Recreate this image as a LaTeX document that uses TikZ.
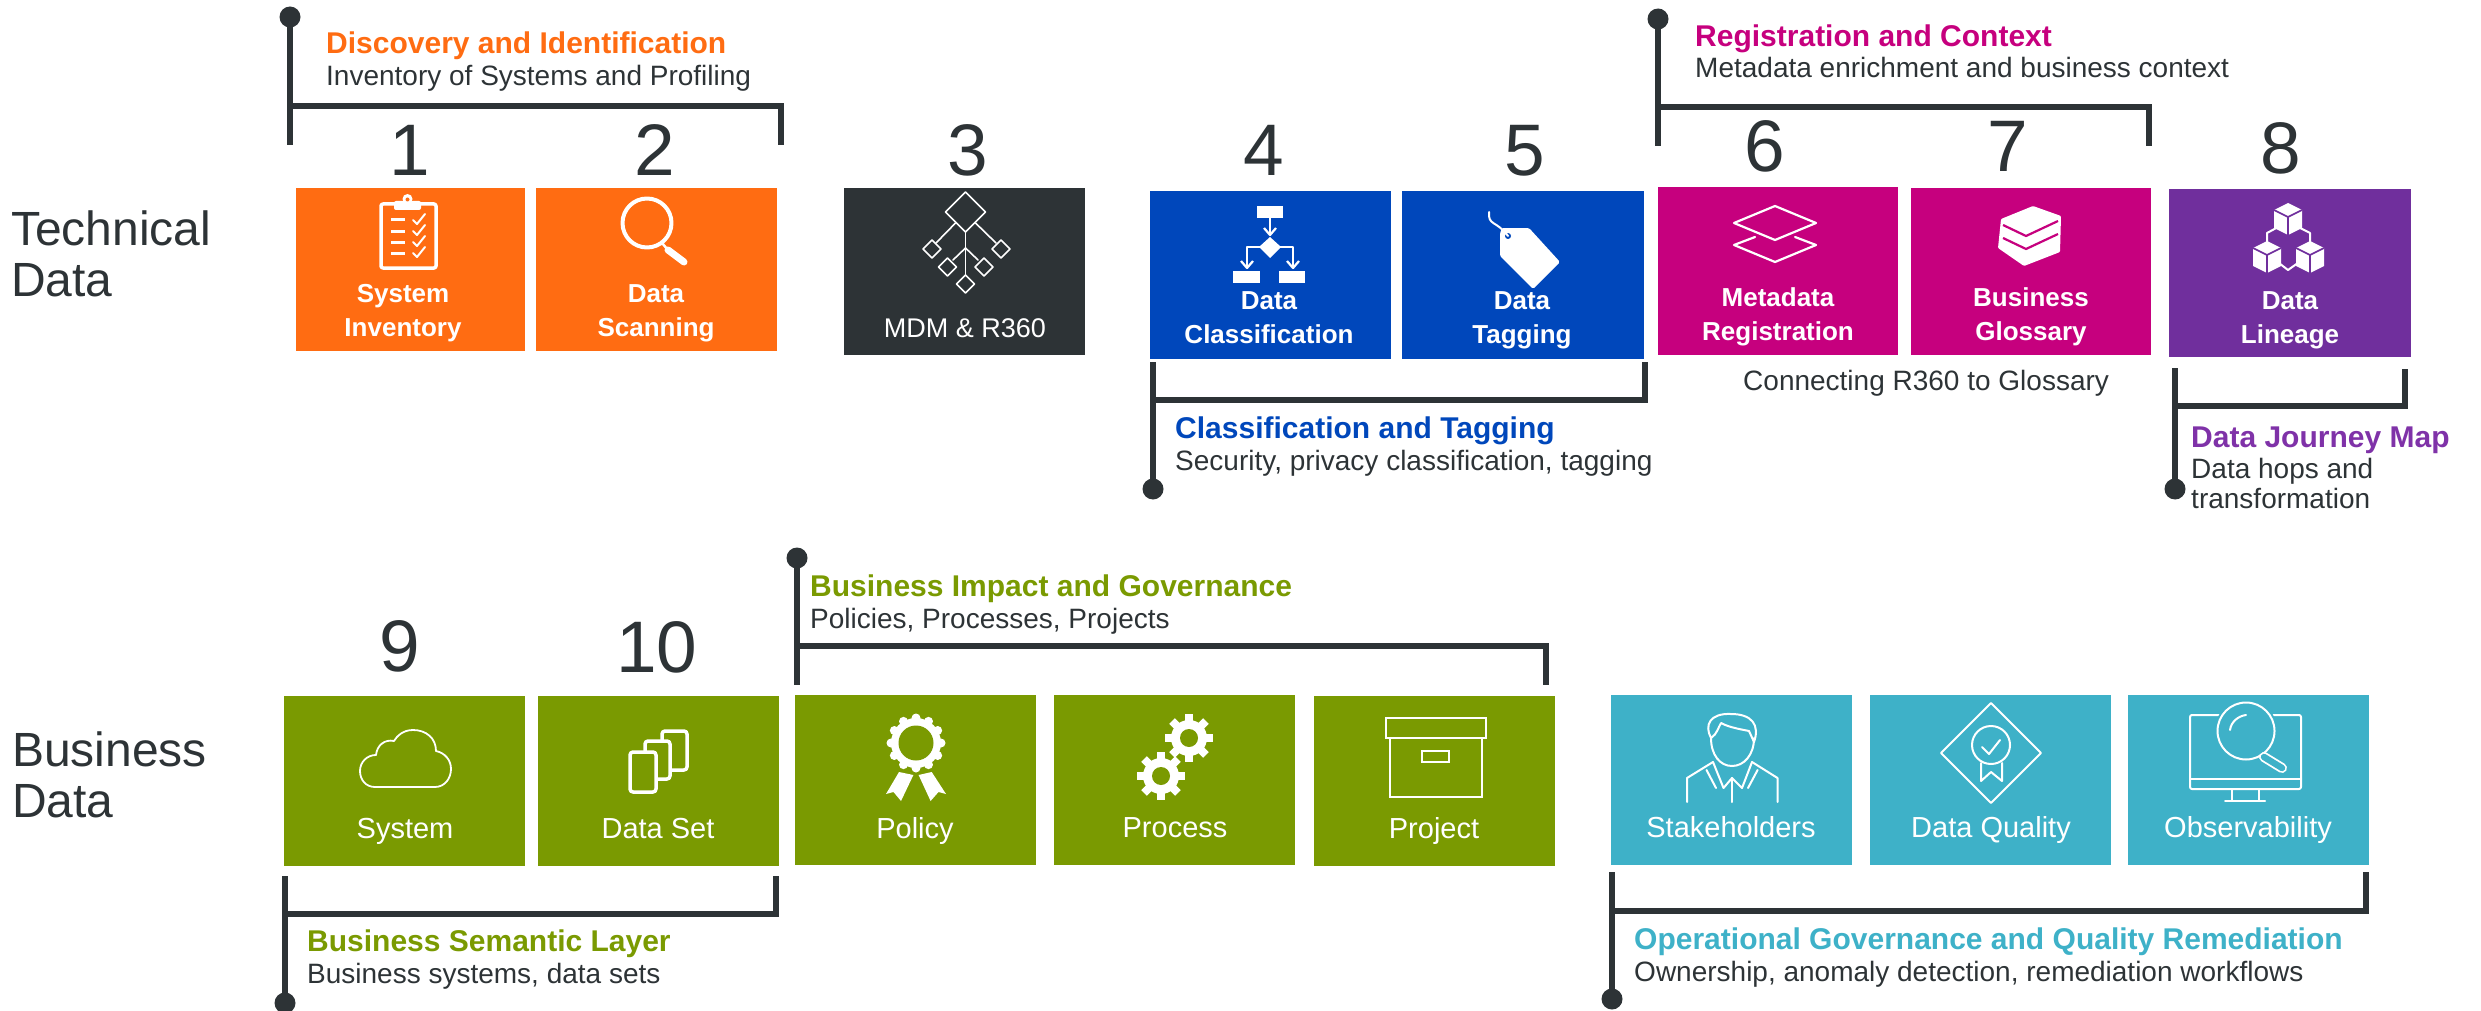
\documentclass[tikz,border=0pt]{standalone}
\usepackage{fontspec}
\setmainfont{Liberation Sans}
\definecolor{cOrange}{HTML}{FF6C12}
\definecolor{cDark}{HTML}{2D3336}
\definecolor{cBlue}{HTML}{0047BB}
\definecolor{cMag}{HTML}{C6007E}
\definecolor{cPurple}{HTML}{702F9D}
\definecolor{cPurpleText}{HTML}{7F32A8}
\definecolor{cGreen}{HTML}{7A9A01}
\definecolor{cTeal}{HTML}{3EB1C8}
\tikzset{
  tile/.style={rectangle,anchor=north west,inner sep=0pt,outer sep=0pt,draw=none},
  numlab/.style={anchor=base,inner sep=0pt,text=cDark,font=\fontsize{73}{80}\selectfont},
  rowlab/.style={anchor=base west,inner sep=0pt,text=cDark,align=left,font=\fontsize{48}{51}\selectfont},
  boldlab/.style={anchor=base,inner sep=0pt,text=white,align=center,font=\fontsize{26}{34}\selectfont\bfseries},
  mdmlab/.style={anchor=base,inner sep=0pt,text=white,font=\fontsize{27}{33}\selectfont},
  plainlab/.style={anchor=base,inner sep=0pt,text=white,font=\fontsize{29}{33}\selectfont},
  headlab/.style={anchor=base west,inner sep=0pt,font=\fontsize{30}{32}\selectfont\bfseries},
  sublab/.style={anchor=base west,inner sep=0pt,text=cDark,align=left,font=\fontsize{28}{30}\selectfont},
  brk/.style={draw=cDark,line width=6pt,line cap=butt,line join=miter},
  ico/.style={draw=white,line width=2.5pt,line join=round,line cap=round},
}
% bracket: name, xL, yDot, yEndL, yBar, xR, yEndR
\newcommand{\mybracket}[7]{%
  \coordinate (#1dot) at (#2,#3);
  \coordinate (#1end) at (#2,#4);
  \coordinate (#1bar) at (#2,#5);
  \coordinate (#1cor) at (#6,#5);
  \coordinate (#1rgt) at (#6,#7);
  \draw[brk] (#1dot) -- (#1end);
  \draw[brk] (#1bar) -- (#1cor) -- (#1rgt);
  \fill[cDark] (#1dot) circle (10.5pt);
}
\newcommand{\mycube}[2]{%
  \begin{scope}[shift={(#1,#2)}]
    \fill[white] (0,-16) -- (14,-9) -- (14,9) -- (0,16) -- (-14,9) -- (-14,-9) -- cycle;
    \draw[cPurple,line width=1.6pt] (-14,-9) -- (0,-2) -- (14,-9) (0,-2) -- (0,16);
  \end{scope}}
\newcommand{\mygear}[2]{%
  \begin{scope}[shift={(#1,#2)}]
    \fill[white] (0,0) circle (18pt);
    \foreach \a in {0,45,...,315}{\fill[white,rotate=\a] (-4,-24) rectangle (4,-14);}
    \fill[cGreen] (0,0) circle (9pt);
  \end{scope}}
\begin{document}
\begin{tikzpicture}[x=1pt,y=-1pt]
\useasboundingbox (0,0) rectangle (2481,1011);
% --- row labels
\node[rowlab] (rowT) at (11,296) {Technical\\Data};
\node[rowlab] (rowB) at (12,817) {Business\\Data};
% --- tiles
\node[tile,fill=cOrange,minimum width=229pt,minimum height=163pt] (t1) at (296,188) {};
\node[tile,fill=cOrange,minimum width=241pt,minimum height=163pt] (t2) at (536,188) {};
\node[tile,fill=cDark,minimum width=241pt,minimum height=167pt] (t3) at (844,188) {};
\node[tile,fill=cBlue,minimum width=241pt,minimum height=168pt] (t4) at (1150,191) {};
\node[tile,fill=cBlue,minimum width=242pt,minimum height=168pt] (t5) at (1402,191) {};
\node[tile,fill=cMag,minimum width=240pt,minimum height=168pt] (t6) at (1658,187) {};
\node[tile,fill=cMag,minimum width=240pt,minimum height=167pt] (t7) at (1911,188) {};
\node[tile,fill=cPurple,minimum width=242pt,minimum height=168pt] (t8) at (2169,189) {};
\node[tile,fill=cGreen,minimum width=241pt,minimum height=170pt] (t9) at (284,696) {};
\node[tile,fill=cGreen,minimum width=241pt,minimum height=170pt] (t10) at (538,696) {};
\node[tile,fill=cGreen,minimum width=241pt,minimum height=170pt] (t11) at (795,695) {};
\node[tile,fill=cGreen,minimum width=241pt,minimum height=170pt] (t12) at (1054,695) {};
\node[tile,fill=cGreen,minimum width=241pt,minimum height=170pt] (t13) at (1314,696) {};
\node[tile,fill=cTeal,minimum width=241pt,minimum height=170pt] (t14) at (1611,695) {};
\node[tile,fill=cTeal,minimum width=241pt,minimum height=170pt] (t15) at (1870,695) {};
\node[tile,fill=cTeal,minimum width=241pt,minimum height=170pt] (t16) at (2128,695) {};
% --- numbers
\node[numlab] (n1) at (410,176) {1};
\node[numlab] (n2) at (655,176) {2};
\node[numlab] (n3) at (968,176) {3};
\node[numlab] (n4) at (1264,176) {4};
\node[numlab] (n5) at (1525,176) {5};
\node[numlab] (n6) at (1765,172) {6};
\node[numlab] (n7) at (2008,172) {7};
\node[numlab] (n8) at (2281,174) {8};
\node[numlab] (n9) at (400,671) {9};
\node[numlab] (n10) at (657,672) {10};
% --- tile labels (anchored on the last line's baseline)
\node[boldlab] (l1) at (403,336) {System\\Inventory};
\node[boldlab] (l2) at (656,336) {Data\\Scanning};
\node[mdmlab] (l3) at (965,337) {MDM \& R360};
\node[boldlab] (l4) at (1269,343) {Data\\Classification};
\node[boldlab] (l5) at (1522,343) {Data\\Tagging};
\node[boldlab] (l6) at (1778,340) {Metadata\\Registration};
\node[boldlab] (l7) at (2031,340) {Business\\Glossary};
\node[boldlab] (l8) at (2290,343) {Data\\Lineage};
\node[plainlab] (l9) at (405,838) {System};
\node[plainlab] (l10) at (658,838) {Data Set};
\node[plainlab] (l11) at (915,838) {Policy};
\node[plainlab] (l12) at (1175,837) {Process};
\node[plainlab] (l13) at (1434,838) {Project};
\node[plainlab] (l14) at (1731,837) {Stakeholders};
\node[plainlab] (l15) at (1991,837) {Data Quality};
\node[plainlab] (l16) at (2248,837) {Observability};
% --- brackets
\mybracket{b1}{290}{17}{145}{106}{781}{145}
\mybracket{b2}{1153}{489}{362}{400}{1645}{362}
\mybracket{b3}{1658}{19}{146}{107}{2149}{146}
\mybracket{b4}{2175}{489}{368}{406}{2405}{369}
\mybracket{b5}{285}{1003}{876}{914}{776}{876}
\mybracket{b6}{797}{558}{685}{646}{1546}{685}
\mybracket{b7}{1612}{999}{872}{911}{2366}{872}
% --- headings
\node[headlab,text=cOrange] (h1) at (326,54) {Discovery and Identification};
\node[sublab] (s1) at (326,86) {Inventory of Systems and Profiling};
\node[headlab,text=cMag] (h2) at (1695,47) {Registration and Context};
\node[sublab] (s2) at (1695,78) {Metadata enrichment and business context};
\node[headlab,text=cBlue] (h3) at (1175,438) {Classification and Tagging};
\node[sublab] (s3) at (1175,470) {Security, privacy classification, tagging};
\node[headlab,text=cPurpleText] (h4) at (2191,447) {Data Journey Map};
\node[sublab] (s4) at (2191,508) {Data hops and\\transformation};
\node[sublab] (s5) at (1743,390) {Connecting R360 to Glossary};
\node[headlab,text=cGreen] (h5) at (307,951) {Business Semantic Layer};
\node[sublab] (s6) at (307,983) {Business systems, data sets};
\node[headlab,text=cGreen] (h6) at (810,596) {Business Impact and Governance};
\node[sublab] (s7) at (810,628) {Policies, Processes, Projects};
\node[headlab,text=cTeal] (h7) at (1634,949) {Operational Governance and Quality Remediation};
\node[sublab] (s8) at (1634,981) {Ownership, anomaly detection, remediation workflows};
% --- icon 1: clipboard
\draw[ico,line width=3.5pt,rounded corners=2pt] (381,204) rectangle (436,268);
\fill[white,rounded corners=2pt] (394,201) rectangle (421,210);
\fill[white] (407.5,199) circle (5pt);
\fill[cOrange] (407.5,199.5) circle (2pt);
\foreach \yy in {220,231,242,253}{
  \draw[ico,line width=3pt,line cap=butt] (391,\yy) -- (405,\yy);
  \draw[ico,line width=2pt] (413,\yy) -- (417,\yy+4) -- (425,\yy-6);
}
% --- icon 2: magnifier
\draw[ico,line width=4pt] (647,223) circle (24.5pt);
\draw[ico,line width=2.5pt] (662,243) -- (668,250);
\draw[ico,line width=7pt] (668,250) -- (684,262);
% --- icon 3: MDM tree
\begin{scope}[ico,line width=1.6pt]
\draw (965.5,192) -- (985.5,212) -- (965.5,232) -- (945.5,212) -- cycle;
\draw (965.5,232) -- (965.5,275);
\draw (955.5,223) -- (936,243);
\draw (975.5,223) -- (996,243);
\draw (965.5,248) -- (953,260);
\draw (965.5,248) -- (978,260);
\foreach \cx/\cy in {932/249,1001/249,947.5/267,984/267,965.5/284}{
  \draw (\cx,\cy-9) -- (\cx+9,\cy) -- (\cx,\cy+9) -- (\cx-9,\cy) -- cycle;
}
\end{scope}
% --- icon 4: flowchart
\fill[white] (1257,206) rectangle (1283,218);
\fill[white] (1233,271) rectangle (1260,283);
\fill[white] (1279,271) rectangle (1305,283);
\fill[white] (1270,237) -- (1281,247) -- (1270,258) -- (1259,247) -- cycle;
\draw[ico,line width=2.2pt,line cap=butt] (1270,218) -- (1270,234);
\draw[ico,line width=2.2pt,line cap=butt] (1264,228) -- (1270,235) -- (1276,228);
\draw[ico,line width=2.2pt,line cap=butt] (1260,247) -- (1247,247) -- (1247,268);
\draw[ico,line width=2.2pt,line cap=butt] (1280,247) -- (1293,247) -- (1293,268);
\draw[ico,line width=2.2pt,line cap=butt] (1241,261) -- (1247,268) -- (1253,261);
\draw[ico,line width=2.2pt,line cap=butt] (1287,261) -- (1293,268) -- (1299,261);
% --- icon 5: tag
\fill[white,rounded corners=1.5pt] (1502,228) -- (1529,228) -- (1560,262) -- (1533,289) -- (1500,256) -- (1500,233) -- cycle;
\fill[cBlue] (1508,236) circle (3pt);
\draw[ico,line width=2pt] (1489,212) .. controls (1488,226) and (1496,220) .. (1508,236);
% --- icon 6: layers
\begin{scope}[ico,line width=2.2pt]
\draw (1775,206) -- (1816,223) -- (1775,240) -- (1734,223) -- cycle;
\draw (1755,237) -- (1734,245) -- (1775,262) -- (1816,245) -- (1795,237);
\end{scope}
% --- icon 7: books
\fill[white,rounded corners=1pt] (2001,219) -- (2033,206) -- (2061,216) -- (2060,252) -- (2024,266) -- (1998,248) -- cycle;
\draw[cMag,line width=2.2pt] (2003,225) -- (2026,236) -- (2058,221);
\draw[cMag,line width=2.2pt] (2003,238) -- (2026,249) -- (2058,234);
% --- icon 8: cubes
\draw[ico,line width=2pt] (2280,226) -- (2267,233) -- (2267,246);
\draw[ico,line width=2pt] (2296,226) -- (2310,233) -- (2310,246);
\draw[ico,line width=2pt] (2275,260) -- (2288,270) -- (2302,260);
\mycube{2288}{219}
\mycube{2267}{257}
\mycube{2310}{257}
% --- icon 9: cloud
\draw[ico,line width=1.8pt] (375,787) -- (435,787)
  .. controls (445,787) and (451,778) .. (451,769)
  .. controls (451,760) and (445,753) .. (436,751)
  .. controls (436,738) and (426,730) .. (413,730)
  .. controls (403,730) and (397,736) .. (394,741)
  .. controls (385,739) and (377,745) .. (376,755)
  .. controls (367,755) and (360,762) .. (360,771)
  .. controls (360,780) and (366,787) .. (375,787) -- cycle;
% --- icon 10: data set
\draw[ico,line width=3.5pt,rounded corners=3pt] (662,731) rectangle (687,770);
\draw[ico,fill=cGreen,line width=3.5pt,rounded corners=3pt] (645,741) rectangle (670,779);
\draw[ico,fill=cGreen,line width=3.5pt,rounded corners=3pt] (630,752) rectangle (656,792);
% --- icon 11: policy rosette
\fill[white] (899,772) -- (913.4,775) -- (901,801) -- (893.5,792) -- (886,794) -- cycle;
\fill[white] (931.7,772) -- (918.6,775) -- (930.6,801) -- (938.5,792) -- (946,794) -- cycle;
\fill[white] (916,743) circle (25pt);
\foreach \a in {0,30,...,330}{\fill[white] (916,743) ++(\a:25) circle (4.5pt);}
\fill[cGreen] (916,743) circle (17.5pt);
% --- icon 12: gears
\mygear{1189}{738}
\mygear{1161}{776}
% --- icon 13: archive box
\begin{scope}[ico,line width=2.5pt,line cap=butt,line join=miter]
\draw (1386,718) rectangle (1486,738);
\draw (1390,738) rectangle (1482,797);
\draw (1422,751) rectangle (1449,762);
\end{scope}
% --- icon 14: person
\begin{scope}[ico,line width=2pt]
\draw (1711,738) .. controls (1711,755) and (1720,766) .. (1732,766)
  .. controls (1744,766) and (1754,755) .. (1754,738);
\draw (1711,738) .. controls (1704,725) and (1710,713) .. (1731,714)
  .. controls (1752,714) and (1760,725) .. (1754,742);
\draw (1711,738) .. controls (1717,734) and (1718,728) .. (1721,723)
  .. controls (1730,728) and (1745,730) .. (1749,731) -- (1754,742);
\draw (1687,802) -- (1687,778) -- (1713,762);
\draw (1777.5,802) -- (1777.5,778) -- (1752,762);
\draw (1713,762) -- (1723.5,788) -- (1732,778) -- (1742,788) -- (1752,762);
\draw (1706.5,770) -- (1716,788);
\draw (1757.6,770) -- (1748,788);
\draw (1732,778) -- (1732,802);
\end{scope}
% --- icon 15: data quality
\begin{scope}[ico,line width=2pt]
\draw (1991,703) -- (2041,753) -- (1991,803) -- (1941,753) -- cycle;
\draw (1991,745) circle (19pt);
\draw (1981,763) -- (1981,781) -- (1991,772) -- (2002,781) -- (2002,763);
\draw (1982,747) -- (1989,754) -- (2000,740);
\end{scope}
% --- icon 16: observability
\begin{scope}[ico,line width=2pt]
\draw[rounded corners=2pt] (2190,715) rectangle (2301,789);
\draw (2190,779) -- (2301,779);
\draw (2232,789) -- (2232,800);
\draw (2259,789) -- (2259,800);
\draw (2225,801) -- (2265,801);
\draw[fill=cTeal,draw=cTeal,line width=6pt] (2246,731) circle (28.5pt);
\draw (2246,731) circle (28.5pt);
\draw[white,line width=10pt] (2264,757) -- (2282,768);
\draw[cTeal,line width=6.4pt,line cap=round] (2264,757) -- (2282,768);
\draw (2230,730) .. controls (2231,722) and (2238,716) .. (2246,715);
\end{scope}
\end{tikzpicture}
\end{document}
